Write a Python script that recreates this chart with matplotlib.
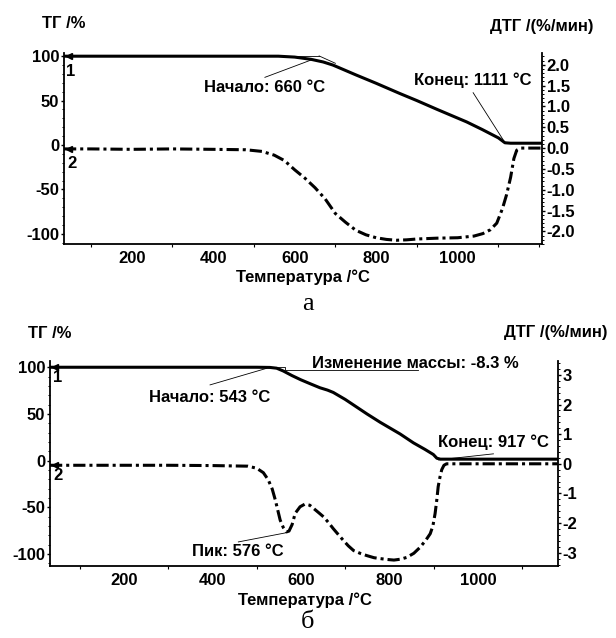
import matplotlib
matplotlib.use('Agg')
import matplotlib.pyplot as plt
from matplotlib.ticker import MultipleLocator, FixedLocator, FormatStrFormatter

plt.rcParams['font.family'] = ['Liberation Sans', 'DejaVu Sans']
plt.rcParams['font.weight'] = 'bold'
plt.rcParams['axes.unicode_minus'] = False
plt.rcParams['xtick.labelsize'] = 12
plt.rcParams['ytick.labelsize'] = 12

# --- panel a: TG (curve 1) and DTG (curve 2)
ta_T = [34, 100, 200, 300, 400, 500, 560, 600, 640, 670, 694, 750, 800, 858, 900,
        950, 1022, 1060, 1100, 1116, 1130, 1207]
ta_TG = [100, 100, 100, 100, 100, 100, 100, 99, 96.5, 93.5, 90, 79, 69.5, 58, 50,
         40, 26, 17.5, 8, 2.5, 2, 2]

da_T = [34, 100, 200, 300, 400, 480, 520, 550, 575, 600, 625, 650, 675, 700, 725,
        750, 775, 800, 825, 850, 875, 900, 950, 1000, 1040, 1062, 1080, 1096, 1110,
        1120, 1130, 1138, 1145, 1155, 1207]
da_DTG = [-0.02, -0.02, -0.03, -0.02, -0.03, -0.04, -0.08, -0.17, -0.3, -0.52, -0.72,
          -0.95, -1.22, -1.57, -1.78, -1.97, -2.08, -2.15, -2.19, -2.21, -2.2, -2.18,
          -2.16, -2.15, -2.11, -2.05, -1.96, -1.8, -1.45, -1.12, -0.7, -0.25, -0.05,
          0.0, 0.0]

# --- panel б
tb_T = [33, 100, 200, 300, 400, 500, 530, 545, 560, 580, 600, 620, 643, 660, 673,
        700, 749, 779, 824, 854, 880, 899, 907, 915, 1000, 1100, 1180]
tb_TG = [100, 100, 100, 100, 100, 100, 99.8, 99, 96, 91, 86.5, 82.5, 78, 75.5, 73,
         65.5, 50, 41, 28.5, 19, 12, 6.5, 2.5, 1.5, 1.5, 1.5, 1.5]

db_T = [33, 100, 200, 300, 400, 480, 500, 515, 526, 535, 542, 553, 560, 567, 573,
        580, 587, 598, 609, 620, 628, 640, 651, 662, 673, 685, 696, 707, 719, 735,
        749, 765, 779, 795, 810, 825, 839, 855, 869, 882, 892, 898, 903, 907, 910,
        914, 918, 923, 929, 940, 1000, 1100, 1180]
db_DTG = [-0.05, -0.05, -0.05, -0.05, -0.06, -0.08, -0.15, -0.3, -0.54, -0.85,
          -1.22, -1.9, -2.15, -2.3, -2.27, -2.05, -1.67, -1.45, -1.36, -1.4,
          -1.5, -1.65, -1.79, -1.98, -2.19, -2.4, -2.59, -2.77, -2.93, -3.03,
          -3.1, -3.17, -3.2, -3.23, -3.25, -3.22, -3.16, -3.02, -2.82, -2.58,
          -2.36, -2.1, -1.68, -1.2, -0.77, -0.45, -0.2, -0.05, 0.0, 0.0,
          0.0, 0.0, 0.0]

x_ticks = [200, 400, 600, 800, 1000]

W, H = 616, 638
fig = plt.figure(figsize=(W / 100, H / 100), dpi=100)


def ftext(x, y, s, **kw):
    # place text by pixel position in the figure
    kw.setdefault('ha', 'center')
    kw.setdefault('va', 'center')
    kw.setdefault('fontsize', 12)
    kw.setdefault('fontweight', 'bold')
    fig.text(x / W, 1 - y / H, s, **kw)


def panel(box, xlim, ylim_l, ylim_r, r_major, r_minor, r_fmt):
    l, t, r, b = box
    ax = fig.add_axes([l / W, 1 - b / H, (r - l) / W, (b - t) / H])
    ax.set_xlim(*xlim)
    ax.set_ylim(*ylim_l)
    ax.spines['top'].set_visible(False)
    ax.spines['right'].set_visible(False)
    ax.xaxis.set_major_locator(FixedLocator(x_ticks))
    ax.xaxis.set_minor_locator(MultipleLocator(100))
    ax.yaxis.set_major_locator(MultipleLocator(50))
    ax.yaxis.set_minor_locator(MultipleLocator(10))
    ax.tick_params(axis='x', which='major', length=0, pad=5)
    ax.tick_params(axis='x', which='minor', length=2, width=0.8)
    ax.tick_params(axis='y', which='major', length=2.5, width=1, pad=1)
    ax.tick_params(axis='y', which='minor', length=1.5, width=0.7)
    for s in ['left', 'bottom']:
        ax.spines[s].set_linewidth(1.3)

    axr = ax.twinx()
    axr.set_ylim(*ylim_r)
    for s in ['top', 'left', 'bottom']:
        axr.spines[s].set_visible(False)
    axr.spines['right'].set_linewidth(1.3)
    axr.yaxis.set_major_locator(MultipleLocator(r_major))
    axr.yaxis.set_minor_locator(MultipleLocator(r_minor))
    axr.yaxis.set_major_formatter(FormatStrFormatter(r_fmt))
    axr.tick_params(axis='y', which='major', length=2.5, width=1, pad=1)
    axr.tick_params(axis='y', which='minor', length=1.5, width=0.7)
    return ax, axr


dash = (4, 1.3, 1, 1.3)
thin = dict(color='black', lw=0.6)

# ---------------- panel a
ax1, ax1r = panel((64, 53, 542, 244), (34, 1207), (-111.5, 103.6), (-2.30, 2.28),
                  0.5, 0.1, '%.1f')
ax1.plot(ta_T, ta_TG, color='black', lw=2.2, solid_joinstyle='round')
ax1r.plot(da_T, da_DTG, color='black', lw=2.2, dashes=dash)
ax1.plot([ta_T[0] + 12], [ta_TG[0]], marker='<', ms=4, color='black')
ax1r.plot([da_T[0] + 12], [da_DTG[0]], marker='<', ms=4, color='black')
# onset construction and leaders
ax1.plot([580, 660], [100.3, 100.3], **thin)
ax1.plot([660, 700], [100.3, 92], **thin)
ax1.plot([527, 645], [76.2, 96.5], **thin)
ax1.plot([1038, 1112], [58.9, 5.6], **thin)

ftext(64, 24, 'ТГ /%')
ftext(542, 27, 'ДТГ /(%/мин)')
ftext(264.5, 87, 'Начало: 660 °C')
ftext(473, 80, 'Конец: 1111 °C')
ftext(71, 72, '1')
ftext(72, 163, '2')
ftext(303, 277, 'Температура /°C')
ftext(308, 304, 'а', family='Liberation Serif', fontweight='normal', fontsize=19)

# ---------------- panel б
ax2, ax2r = panel((50, 361, 557.7, 566), (33, 1180), (-113, 106.7), (-3.45, 3.47),
                  1, 0.2, '%d')
ax2.plot(tb_T, tb_TG, color='black', lw=2.2, solid_joinstyle='round')
ax2r.plot(db_T, db_DTG, color='black', lw=2.2, dashes=dash)
ax2.plot([tb_T[0] + 12], [tb_TG[0]], marker='<', ms=4, color='black')
ax2r.plot([db_T[0] + 12], [db_DTG[0]], marker='<', ms=4, color='black')
# mass change step and leaders
ax2.plot([492, 564, 564, 865], [100.8, 100.8, 96.8, 96.8], **thin)
ax2.plot([394.6, 522.7], [81.1, 98.9], **thin)
ax2.plot([910.5, 1034.8], [0.75, 7.2], **thin)
ax2.plot([458.5, 564], [-87.2, -77.6], **thin)

ftext(50, 333, 'ТГ /%')
ftext(556, 333, 'ДТГ /(%/мин)')
ftext(415, 363, 'Изменение массы: -8.3 %')
ftext(210, 397, 'Начало: 543 °C')
ftext(493, 442.7, 'Конец: 917 °C')
ftext(237.5, 551.7, 'Пик: 576 °C')
ftext(58, 378, '1')
ftext(58, 475, '2')
ftext(305, 600, 'Температура /°C')
ftext(308, 622, 'б', family='Liberation Serif', fontweight='normal', fontsize=19)

fig.savefig('out.png', dpi=100)
